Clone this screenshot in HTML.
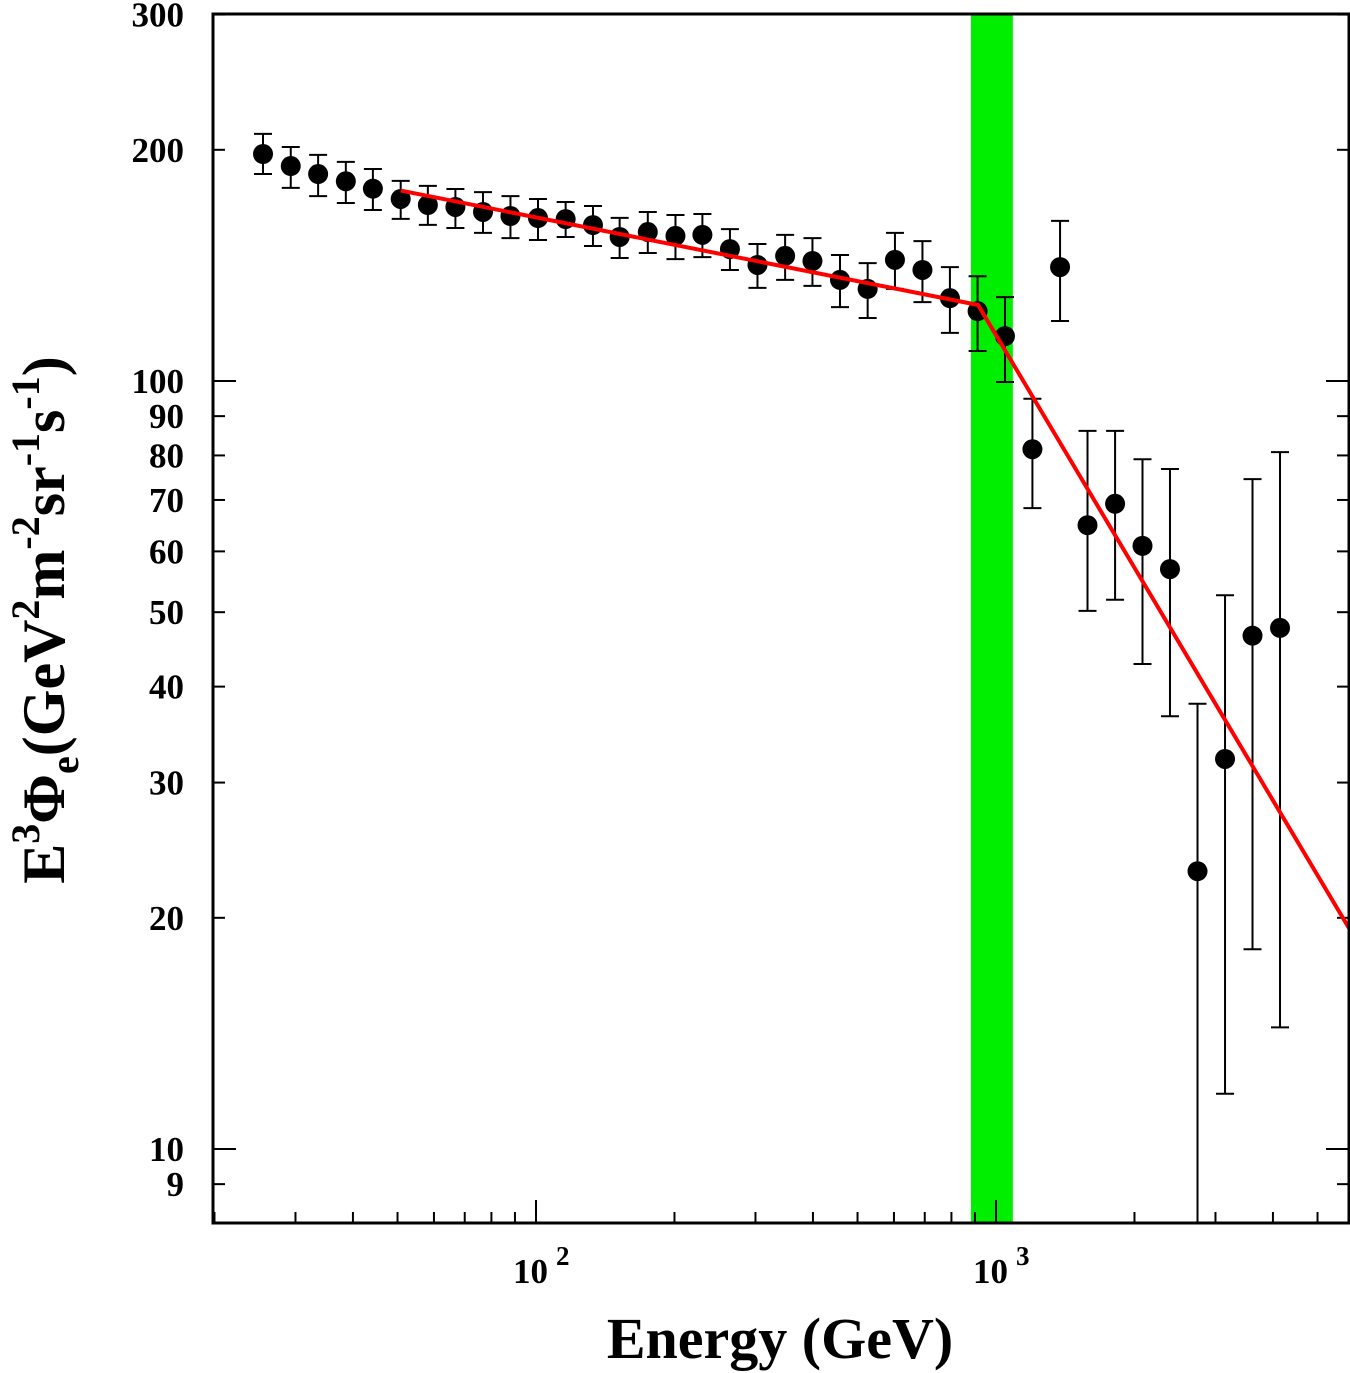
<!DOCTYPE html>
<html><head><meta charset="utf-8"><style>
body{margin:0;background:#fff;}
svg{display:block;font-family:"Liberation Serif",serif;font-weight:bold;}
</style></head><body>
<svg id="chart" width="1350" height="1373" viewBox="0 0 1350 1373" xmlns="http://www.w3.org/2000/svg">
<g id="bands"></g>
<g id="ticks"></g>
<g id="points"></g>
<g id="fit"></g>
<rect x="213" y="14" width="1136" height="1209" fill="none" stroke="#000" stroke-width="3"/>
<text x="780" y="1358" font-size="58" text-anchor="middle">Energy (GeV)</text>
<text transform="translate(64,620) rotate(-90)" font-size="60" text-anchor="middle">E<tspan font-size="40" dy="-25">3</tspan><tspan dy="25">Φ</tspan><tspan font-size="40" dy="14">e</tspan><tspan dy="-14">(GeV</tspan><tspan font-size="40" dy="-25">2</tspan><tspan dy="25">m</tspan><tspan font-size="40" dy="-25">-2</tspan><tspan dy="25">sr</tspan><tspan font-size="40" dy="-25">-1</tspan><tspan dy="25">s</tspan><tspan font-size="40" dy="-25">-1</tspan><tspan dy="25">)</tspan></text>
</svg>
<script>
const energies=[25.5,29.3,33.6,38.6,44.2,50.8,58.2,66.8,76.7,88.0,101,116,133,152,175,201,230,264,303,348,399,458,526,603,692,794,912,1046,1200,1378,1581,1815,2082,2389,2742,3147,3611,4144];
const flux=[197.5,190.5,186,182,178,172.6,169.5,168.5,166,164,163,162.5,159.6,154,156.3,154.5,155,148.5,141.6,145.5,143.3,135.4,131.8,143.8,139.5,128.2,123.3,114.4,81.5,140.7,64.9,69.2,61,56.9,23.0,32.2,46.6,47.7];
const fluxHi=[209.8,201.7,197.0,192.9,188.8,182.2,179.5,177.8,176.2,174.1,172.6,171.0,169.0,163.1,166.0,164.5,165.0,157.7,150.8,155.0,153.5,145.9,142.4,155.9,152.1,140.7,136.9,128.6,94.8,161.6,86.1,86.1,79.1,76.8,38.0,52.6,74.5,80.8];
const fluxLo=[186.0,178.4,174.1,170.5,167.0,162.6,159.7,158.2,155.9,153.5,152.6,154.0,149.9,144.6,146.8,144.1,145.0,139.5,132.2,135.4,133.0,124.8,120.8,131.8,126.7,115.5,109.4,99.7,68.3,119.7,50.2,51.9,42.8,36.6,5,11.8,18.2,14.4];
const fitE=[50.8,914,5850];
const fitFlux=[177,125.6,19.4];
const bandE=[882,1088];
const yTickLabels=[9,10,20,30,40,50,60,70,80,90,100,200,300];
const xMajor=[100,1000];
const NS="http://www.w3.org/2000/svg";
const L=213,R=1349,T=14,B=1223;
function X(e){return 536+460*(Math.log10(e)-2);}
function Y(v){return 381-768*(Math.log10(v)-2);}
function mk(tag,attrs,parent){const el=document.createElementNS(NS,tag);for(const k in attrs)el.setAttribute(k,attrs[k]);document.getElementById(parent).appendChild(el);return el;}
const band=mk('rect',{x:X(bandE[0]),y:T,width:X(bandE[1])-X(bandE[0]),height:B-T,fill:'#00ee00'},'bands');


const yMinor=[];for(let d of [1,10,100])for(let m=1;m<10;m++){const v=d*m;if(v>=8&&v<=300)yMinor.push(v);}
yMinor.forEach(v=>{const major=(v===10||v===100);const len=major?23:12;const y=Y(v);
 const t1=mk('line',{x1:L,x2:L+len,y1:y,y2:y,stroke:'#000','stroke-width':2},'ticks');
 
 
 const t2=mk('line',{x1:R-len,x2:R,y1:y,y2:y,stroke:'#000','stroke-width':2},'ticks');
 
 
});
yTickLabels.forEach(v=>{const t=mk('text',{x:184,y:Y(v)+12,'font-size':35,'text-anchor':'end'},'ticks');t.textContent=v;
 
 });
for(let d of [10,100,1000])for(let m=1;m<10;m++){const e=d*m;const x=X(e);if(x<L||x>R)continue;const major=(m===1);const len=major?23:11;
 const t=mk('line',{x1:x,x2:x,y1:B,y2:B-len,stroke:'#000','stroke-width':2},'ticks');
 
 }
xMajor.forEach(e=>{const t=mk('text',{x:X(e)-23,y:1283,'font-size':35},'ticks');t.innerHTML='10<tspan font-size="27" dy="-18" dx="8">'+Math.round(Math.log10(e))+'</tspan>';
 
 });
energies.forEach((e,i)=>{const x=X(e);const yh=Y(fluxHi[i]);const yl=Math.min(Y(fluxLo[i]),B);
 const g=mk('g',{},'points');
 
 
 const a=[['line',{x1:x,x2:x,y1:yh,y2:yl}],['line',{x1:x-9,x2:x+9,y1:yh,y2:yh}]];
 if(Y(fluxLo[i])<B)a.push(['line',{x1:x-9,x2:x+9,y1:yl,y2:yl}]);
 a.forEach(([tg,at])=>{const el=document.createElementNS(NS,tg);for(const k in at)el.setAttribute(k,at[k]);el.setAttribute('stroke','#000');el.setAttribute('stroke-width','2');g.appendChild(el);});
 const c=document.createElementNS(NS,'circle');c.setAttribute('cx',x);c.setAttribute('cy',Y(flux[i]));c.setAttribute('r',10);c.setAttribute('fill','#000');g.appendChild(c);
});
const fit=mk('polyline',{points:fitE.map((e,i)=>X(e)+','+Y(fitFlux[i])).join(' '),fill:'none',stroke:'#ff0000','stroke-width':4},'fit');


</script>
</body></html>
